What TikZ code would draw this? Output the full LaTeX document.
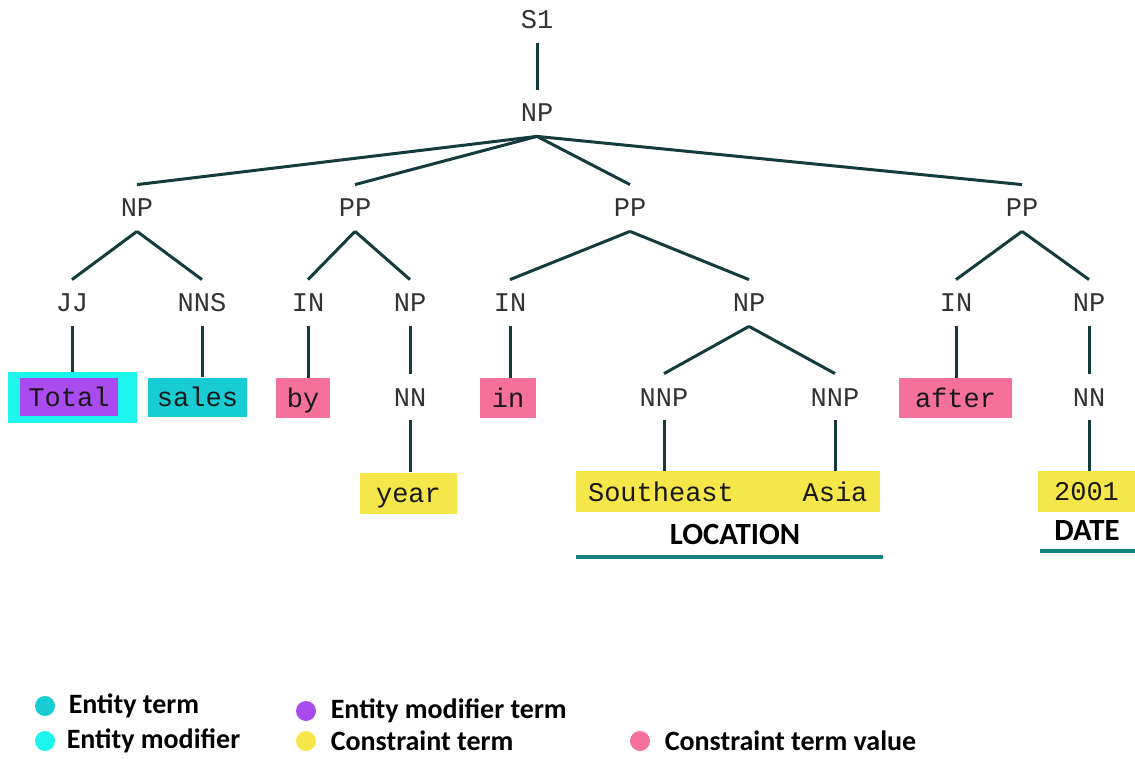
\documentclass[tikz,border=0pt]{standalone}
\usepackage{fontspec}
\usepackage{tikz}
\usetikzlibrary{positioning, calc}
\newfontfamily\treefont{Liberation Mono}
\newfontfamily\legfont{Carlito}
\definecolor{treeline}{RGB}{20, 60, 60}
\definecolor{entityteal}{RGB}{23, 204, 210}
\definecolor{modcyan}{RGB}{30, 245, 236}
\definecolor{modpurple}{RGB}{168, 76, 239}
\definecolor{constyellow}{RGB}{245, 230, 74}
\definecolor{valpink}{RGB}{245, 112, 154}
\definecolor{nerteal}{RGB}{20, 128, 128}

\begin{document}
\begin{tikzpicture}[
        x=0.5pt, y=-0.5pt,
        tag/.style={font=\treefont\fontsize{13.5}{16}\selectfont, inner sep=0pt, text height=9.5pt, text depth=0.5pt, minimum height=23pt, text=black!80},
        word/.style={font=\treefont\fontsize{13.5}{16}\selectfont, inner sep=0pt, text height=9.5pt, text depth=0.5pt, minimum height=19.5pt, text=black!90},
        entity/.style={word, fill=entityteal},
        modterm/.style={word, fill=modpurple},
        constr/.style={word, fill=constyellow, minimum height=20.5pt, minimum width=48.5pt},
        cvalue/.style={word, fill=valpink, minimum height=20pt},
        branch/.style={draw=treeline, line width=1.5pt},
        nerlabel/.style={font=\legfont\bfseries\fontsize{15.4}{18}\selectfont},
        nerline/.style={draw=nerteal, line width=2pt},
        dot/.style={circle, inner sep=0pt, minimum size=10pt},
        legtext/.style={font=\legfont\bfseries\fontsize{14}{16}\selectfont, inner sep=0pt, anchor=west},
    ]
    \useasboundingbox (0,0) rectangle (1135,759);

    % Arbol
    \node[tag] (s1) at (537,20) {S1};
    \node[tag] (np) at (537,113) {NP};
    \node[tag] (np1) at (137,208) {NP};
    \node[tag] (pp1) at (355,208) {PP};
    \node[tag] (pp2) at (630,208) {PP};
    \node[tag] (pp3) at (1022,208) {PP};

    \node[tag] (jj) at (72,303) {JJ};
    \node[tag] (nns) at (202,303) {NNS};
    \node[tag] (in1) at (308,303) {IN};
    \node[tag] (np2) at (410,303) {NP};
    \node[tag] (in2) at (510,303) {IN};
    \node[tag] (np3) at (749,303) {NP};
    \node[tag] (in3) at (956,303) {IN};
    \node[tag] (np4) at (1089,303) {NP};

    \node[tag] (nn1) at (410,397) {NN};
    \node[tag] (nnp1) at (664,397) {NNP};
    \node[tag] (nnp2) at (835,397) {NNP};
    \node[tag] (nn2) at (1089,397) {NN};

    % Palabras
    \node[fill=modcyan, minimum width=64.5pt, minimum height=25.5pt, inner sep=0pt] (totalbox) at (72.5,397.5) {};
    \node[modterm, minimum width=49pt, minimum height=19pt] (total) at (69,397) {Total};
    \node[entity, minimum width=49.5pt] (sales) at (197.5,397) {sales};
    \node[cvalue, minimum width=27pt] (by) at (303,398) {by};
    \node[cvalue, minimum width=28pt] (in) at (508,398) {in};
    \node[cvalue, minimum width=56.5pt] (after) at (955.5,398) {after};
    \node[constr] (year) at (408.5,493) {year};
    \node[constr, minimum width=152pt] (locbox) at (728,491.5) {};
    \node[word] (southeast) at (661,492) {Southeast};
    \node[word] (asia) at (835,492) {Asia};
    \node[constr] (y2001) at (1086.5,491.5) {2001};

    % Entidades
    \node[nerlabel] (location) at (735,535) {LOCATION};
    \node[nerlabel] (date) at (1087,531) {DATE};
    \draw[nerline] ([yshift=-22.5pt]locbox.south west) -- ([yshift=-22.5pt, xshift=1.5pt]locbox.south east);
    \draw[nerline] ([yshift=-19.5pt, xshift=1pt]y2001.south west) -- ([yshift=-19.5pt]y2001.south east);

    % Ramas
    \draw[branch] (s1.south) -- (np.north);
    \draw[branch] (np.south) -- (np1.north);
    \draw[branch] (np.south) -- (pp1.north);
    \draw[branch] (np.south) -- (pp2.north);
    \draw[branch] (np.south) -- (pp3.north);
    \draw[branch] (np1.south) -- (jj.north);
    \draw[branch] (np1.south) -- (nns.north);
    \draw[branch] (pp1.south) -- (in1.north);
    \draw[branch] (pp1.south) -- (np2.north);
    \draw[branch] (pp2.south) -- (in2.north);
    \draw[branch] (pp2.south) -- (np3.north);
    \draw[branch] (pp3.south) -- (in3.north);
    \draw[branch] (pp3.south) -- (np4.north);
    \draw[branch] (np3.south) -- (nnp1.north);
    \draw[branch] (np3.south) -- (nnp2.north);
    \draw[branch] (jj.south) -- (jj.south |- totalbox.north);
    \draw[branch] (nns.south) -- (nns.south |- sales.north);
    \draw[branch] (in1.south) -- (in1.south |- by.north);
    \draw[branch] (np2.south) -- (nn1.north);
    \draw[branch] (in2.south) -- (in2.south |- in.north);
    \draw[branch] (in3.south) -- (in3.south |- after.north);
    \draw[branch] (np4.south) -- (nn2.north);
    \draw[branch] (nn1.south) -- (nn1.south |- year.north);
    \draw[branch] (nnp1.south) -- (nnp1.south |- locbox.north);
    \draw[branch] (nnp2.south) -- (nnp2.south |- locbox.north);
    \draw[branch] (nn2.south) -- (nn2.south |- y2001.north);

    % Leyenda
    \node[dot, fill=entityteal] (d1) at (45,706) {};
    \node[legtext, right=6.5pt of d1] (l1) {Entity term};
    \node[dot, fill=modcyan] (d2) at (45,741) {};
    \node[legtext, right=5.5pt of d2] (l2) {Entity modifier};
    \node[dot, fill=modpurple] (d3) at (306,711) {};
    \node[legtext, right=7pt of d3] (l3) {Entity modifier term};
    \node[dot, fill=constyellow] (d4) at (306,741) {};
    \node[legtext, right=7pt of d4] (l4) {Constraint term};
    \node[dot, fill=valpink] (d5) at (640,741) {};
    \node[legtext, right=7pt of d5] (l5) {Constraint term value};

\end{tikzpicture}
\end{document}
